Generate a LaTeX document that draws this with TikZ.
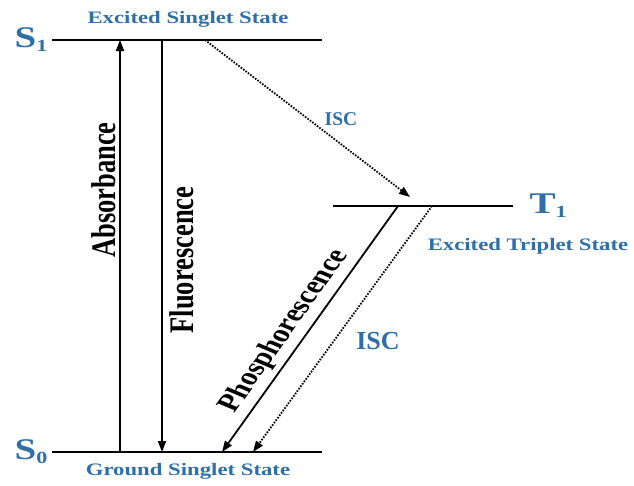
\documentclass[tikz,border=0pt]{standalone}
\usepackage{fontspec}
\setmainfont{Liberation Serif}
\usetikzlibrary{arrows.meta,positioning,calc}
\definecolor{ink}{HTML}{000000}
\definecolor{state}{HTML}{2E6FA8}
\tikzset{every node/.style={font=\bfseries\fontsize{26.5}{28}\selectfont,text=ink,inner sep=1pt},
level/.style={draw=ink,line width=2.8pt},
arr/.style={-{Triangle[length=11pt,width=8pt]},draw=ink,line width=1.8pt},
isc/.style={-{Triangle[length=11pt,width=8pt]},draw=ink,line width=1.8pt,dash pattern=on 1.6pt off 1.4pt},
tag/.style={text=state,xscale=1.3,font=\bfseries\fontsize{17.5}{19}\selectfont},
lab/.style={text=state,xscale=1.3,font=\bfseries\fontsize{30}{32}\selectfont},
vlab/.style={xscale=1.3,rotate=90}}
\newcommand{\lvl}[2]{#1\raisebox{-0.3ex}{\fontsize{17}{17}\selectfont #2}}
\begin{document}
\begin{tikzpicture}[x=1pt,y=1pt]
\useasboundingbox (0,0) rectangle (634,-485);
% energy levels
\coordinate (s1l) at (52,-40);  \coordinate (s1r) at (322,-40);
\coordinate (s0l) at (52,-452); \coordinate (s0r) at (322,-452);
\coordinate (t1l) at (333,-206); \coordinate (t1r) at (513,-206);
\draw[level] (s1l)--(s1r);
\draw[level] (s0l)--(s0r);
\draw[level] (t1l)--(t1r);
\node[lab,left=3pt of s1l] (S1) {\lvl{S}{1}};
\node[lab,left=3pt of s0l] (S0) {\lvl{S}{0}};
\node[lab,right=15pt of t1r] (T1) {\lvl{T}{1}};
\node[tag] (es) at (188,-19) {Excited Singlet State};
\node[tag] (gs) at (188,-471) {Ground Singlet State};
\node[tag] (et) at (528,-246) {Excited Triplet State};
% transitions
\coordinate (ab0) at (120,-452); \coordinate (ab1) at (120,-40);
\coordinate (fl1) at (162,-40);  \coordinate (fl0) at (162,-452);
\coordinate (is1) at (205,-40);  \coordinate (ist) at (410,-197);
\coordinate (ph1) at (398,-206); \coordinate (ph0) at (222,-452);
\coordinate (it1) at (432,-206); \coordinate (it0) at (253,-452);
\draw[arr] (ab0)--(ab1);
\draw[arr] (fl1)--(fl0);
\draw[isc] (is1)--(ist);
\draw[arr] (ph1)--node[pos=.54,xscale=1.3,rotate=61.2,anchor=south,inner sep=4pt,
  font=\bfseries\fontsize{25}{27}\selectfont] (phl) {Phosphorescence} (ph0);
\draw[isc] (it1)--(it0);
\node[vlab] (abl) at (104,-190) {Absorbance};
\node[vlab] (fll) at (182,-260) {Fluorescence};
\node[tag,xscale=1/1.3,font=\bfseries\fontsize{19.5}{21}\selectfont] (isa) at (341,-119) {ISC};
\node[tag,xscale=1/1.3,font=\bfseries\fontsize{26}{28}\selectfont] (isb) at (378,-341) {ISC};
\end{tikzpicture}
\end{document}
